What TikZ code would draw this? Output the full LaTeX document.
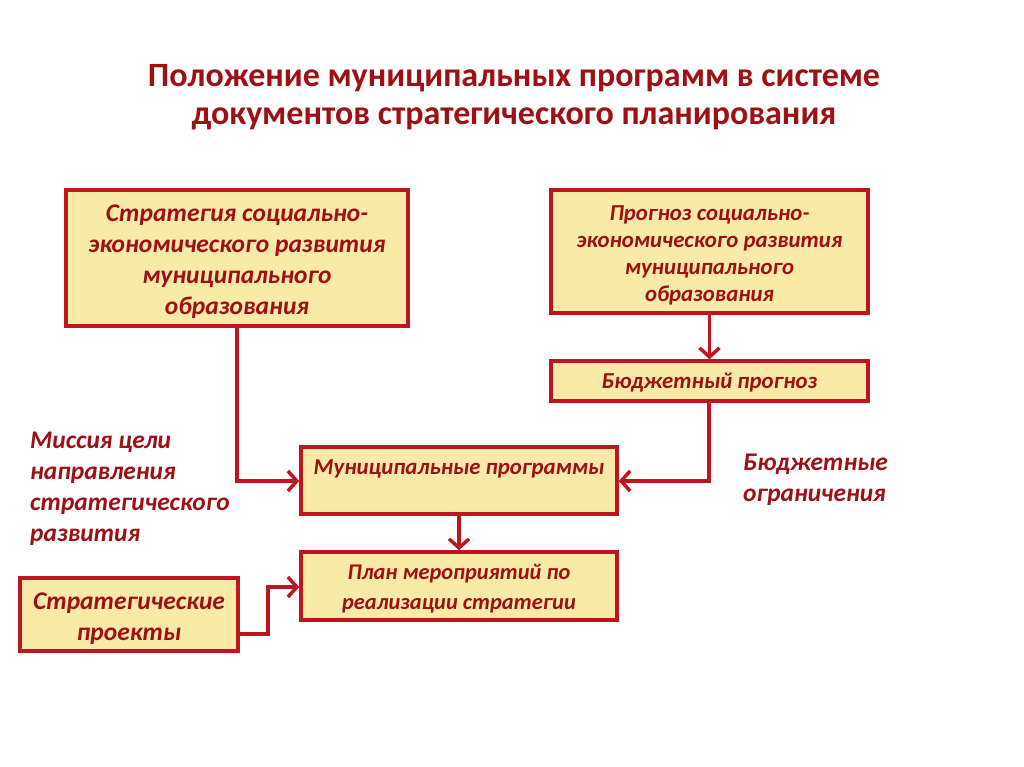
\documentclass[tikz,border=0pt]{standalone}
\usepackage{fontspec}
\setmainfont{Carlito}
\usetikzlibrary{arrows.meta}
\definecolor{boxred}{RGB}{190,22,30}
\definecolor{txtred}{RGB}{158,16,20}
\definecolor{boxfill}{RGB}{249,234,168}
\tikzset{
  docbox/.style={draw=boxred, fill=boxfill, line width=3.5pt, inner sep=0pt},
  boxtext/.style={text=txtred, align=center, inner sep=0pt},
  big/.style={font=\fontsize{25.5}{31}\selectfont\bfseries\itshape},
  small/.style={font=\fontsize{22.8}{27}\selectfont\bfseries\itshape},
  conn/.style={draw=boxred, line width=3.5pt, -{Straight Barb[length=9pt,width=20pt,line width=3.5pt]}},
  lbl/.style={text=txtred, align=left, font=\fontsize{25.4}{31}\selectfont\bfseries\itshape, inner sep=0pt},
}
\begin{document}
\begin{tikzpicture}[x=1pt,y=-1pt]
\useasboundingbox (0,0) rectangle (1024,767);
\node[text=txtred, align=center, font=\fontsize{34}{38.5}\selectfont\bfseries] (title) at (514,97)
  {Положение муниципальных программ в системе\\документов стратегического планирования};

\node[docbox, minimum width=342pt, minimum height=136pt] (strat) at (237,258) {};
\node[boxtext, big] (strattext) at (237,262)
  {Стратегия социально-\\экономического развития\\муниципального\\образования};
\node[docbox, minimum width=317pt, minimum height=123pt] (prog) at (709.5,251.5) {};
\node[boxtext, small] (progtext) at (709.5,255)
  {Прогноз социально-\\экономического развития\\муниципального\\образования};
\node[docbox, minimum width=317pt, minimum height=40pt] (budg) at (709.5,381) {};
\node[boxtext, small] (budgtext) at (709.5,383) {Бюджетный прогноз};
\node[docbox, minimum width=316pt, minimum height=67pt] (muni) at (459,480.5) {};
\node[boxtext, small] (munitext) at (459,468.5) {Муниципальные программы};
\node[docbox, minimum width=316pt, minimum height=68pt] (plan) at (459,586) {};
\node[boxtext, font=\fontsize{22.4}{30}\selectfont\bfseries\itshape] (plantext) at (459,589)
  {План мероприятий по\\реализации стратегии};
\node[docbox, minimum width=218pt, minimum height=73pt] (proj) at (129,614.5) {};
\node[boxtext, big] (projtext) at (129,619) {Стратегические\\проекты};

\node[lbl, anchor=north west] (miss) at (30,431.5)
  {Миссия цели\\направления\\стратегического\\развития};
\node[lbl, anchor=north west] (lim) at (743,454)
  {Бюджетные\\ограничения};

\coordinate (c1) at (237,481);
\coordinate (c2) at (709,481);
\coordinate (c3) at (268,634);
\coordinate (c4) at (268,587);
\draw[conn] (strat.south -| c1) -- (c1) -- (muni.west |- c1);
\draw[conn] (prog.south) -- (budg.north);
\draw[conn] (budg.south -| c2) -- (c2) -- (muni.east |- c2);
\draw[conn] (muni.south) -- (plan.north);
\draw[conn] (proj.east |- c3) -- (c3) -- (c4) -- (plan.west |- c4);
\end{tikzpicture}
\end{document}
